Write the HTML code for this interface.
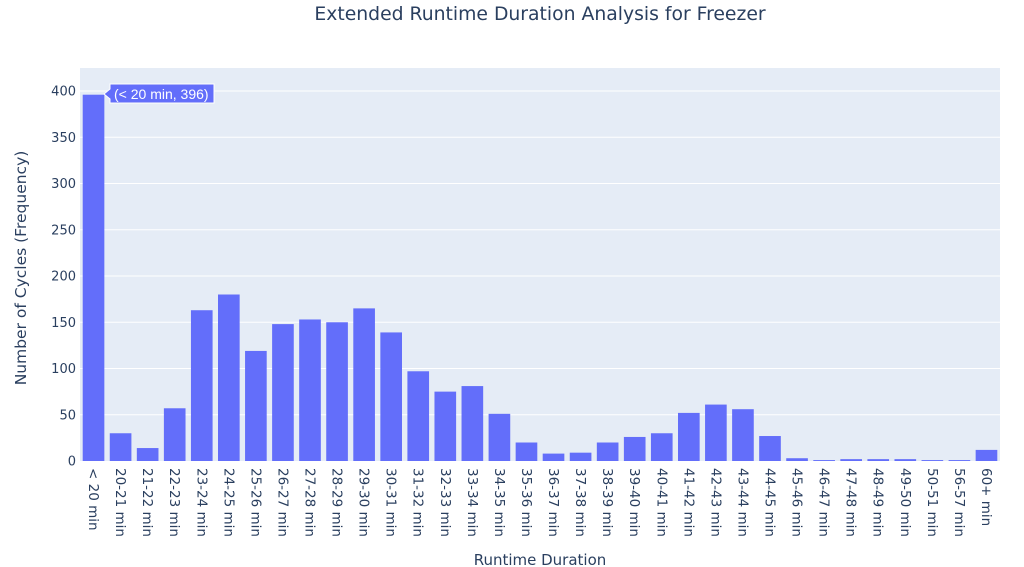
<!DOCTYPE html>
<html><head><meta charset="utf-8"><style>body{margin:0;background:#fff}svg{display:block}text{font-family:"DejaVu Sans","Liberation Sans",sans-serif;fill:#2a3f5f}</style></head><body>
<svg width="1024" height="567" xmlns="http://www.w3.org/2000/svg">
<rect x="80" y="68" width="920" height="393" fill="#E5ECF6"/>
<g id="grid" stroke="#fff" stroke-width="1"></g>
<g id="bars" fill="#636EFA"></g>
<g id="yl" font-size="13" text-anchor="end"></g>
<g id="xl" font-size="13.5"></g>
<text x="540" y="20" font-size="18.8" text-anchor="middle">Extended Runtime Duration Analysis for Freezer</text>
<text x="540" y="565" font-size="15" text-anchor="middle">Runtime Duration</text>
<text transform="translate(26,268) rotate(-90)" font-size="15.5" text-anchor="middle">Number of Cycles (Frequency)</text>
<g>
<path d="M104,94 L110,89 L110,84 L214,84 L214,103 L110,103 L110,99 Z" fill="#636EFA" stroke="#fff" stroke-width="1"/>
<text x="114" y="99" font-size="14" style="fill:#fff;font-family:'Liberation Sans',sans-serif">(&lt; 20 min, 396)</text>
</g>
<script>
var ns="http://www.w3.org/2000/svg";
var vals=[396,30,14,57,163,180,119,148,153,150,165,139,97,75,81,51,20,8,9,20,26,30,52,61,56,27,3,1,2,2,2,1,1,12];
var labs=["< 20 min"];for(var i=20;i<=50;i++)labs.push(i+"-"+(i+1)+" min");labs.push("56-57 min","60+ min");
function el(t,a,p,txt){var e=document.createElementNS(ns,t);for(var k in a)e.setAttribute(k,a[k]);if(txt!==undefined)e.textContent=txt;document.getElementById(p).appendChild(e);}
for(var v=0;v<=400;v+=50){var y=461-v*0.925;if(v>0)el("line",{x1:80,x2:1000,y1:y,y2:y},"grid");el("text",{x:76,y:y+4.5},"yl",v);}
var w=920/34;
for(var i=0;i<34;i++){var cx=80+w*(i+0.5),h=vals[i]*0.925;el("rect",{x:cx-w*0.4,y:461-h,width:w*0.8,height:h},"bars");
el("text",{transform:"translate("+(cx-4.5)+",468) rotate(90)"},"xl",labs[i]);}
</script>
</svg>
</body></html>
